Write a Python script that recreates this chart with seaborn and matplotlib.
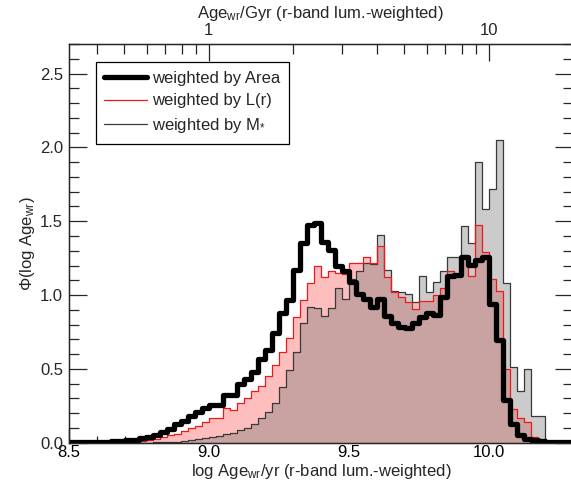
import numpy as np
import pandas as pd
import matplotlib
matplotlib.use("Agg")
import matplotlib.pyplot as plt
import seaborn as sns
from matplotlib.ticker import MultipleLocator, FixedLocator, NullFormatter
from matplotlib.lines import Line2D

# ---- data (bin edges: log Age from 8.5 to 10.3, step 0.025) ----
bin_start = 8.5
bin_width = 0.025
n_bins = 72

phi_area = [0.002, 0.003, 0.004, 0.005, 0.006, 0.008, 0.010, 0.012, 0.016, 0.020,
            0.032, 0.040, 0.050, 0.075, 0.095, 0.125, 0.150, 0.180, 0.210, 0.235,
            0.258, 0.258, 0.320, 0.320, 0.395, 0.430, 0.478, 0.570, 0.630, 0.745,
            0.875, 0.967, 1.170, 1.350, 1.475, 1.486, 1.360, 1.305, 1.200, 1.160,
            1.090, 1.010, 0.975, 0.920, 0.975, 0.860, 0.810, 0.785, 0.775, 0.810,
            0.850, 0.875, 0.865, 0.990, 1.130, 1.135, 1.260, 1.200, 1.240, 1.260,
            0.940, 0.695, 0.290, 0.130, 0.050, 0.025, 0.015, 0.010, 0.008, 0.006,
            0.005, 0.004]

phi_lum = [0.0, 0.0, 0.0, 0.0, 0.0, 0.0, 0.0, 0.0, 0.0, 0.005,
           0.010, 0.015, 0.025, 0.040, 0.050, 0.060, 0.080, 0.100, 0.115, 0.140,
           0.170, 0.170, 0.235, 0.220, 0.270, 0.300, 0.350, 0.385, 0.450, 0.526,
           0.617, 0.707, 0.854, 0.967, 1.084, 1.200, 1.125, 1.165, 1.150, 1.140,
           1.220, 1.215, 1.260, 1.220, 1.330, 1.120, 1.020, 0.990, 0.950, 0.905,
           0.960, 0.960, 1.000, 1.050, 1.160, 1.130, 1.270, 1.130, 1.475, 1.290,
           1.110, 1.030, 0.500, 0.230, 0.165, 0.140, 0.040, 0.020, 0.010, 0.005,
           0.003, 0.002]

phi_mass = [0.0, 0.0, 0.0, 0.0, 0.0, 0.0, 0.0, 0.0, 0.0, 0.0,
            0.0, 0.0, 0.003, 0.004, 0.005, 0.008, 0.012, 0.020, 0.025, 0.030,
            0.040, 0.045, 0.060, 0.065, 0.085, 0.100, 0.125, 0.165, 0.210, 0.270,
            0.380, 0.490, 0.617, 0.810, 0.917, 0.910, 0.858, 0.910, 1.045, 0.970,
            1.110, 1.165, 1.220, 1.210, 1.407, 1.170, 1.030, 1.020, 1.010, 0.955,
            1.130, 1.020, 1.090, 1.160, 1.260, 1.260, 1.470, 1.355, 1.900, 1.580,
            1.720, 2.050, 1.080, 0.510, 0.350, 0.500, 0.180, 0.180, 0.005, 0.003,
            0.002, 0.001]

labels = ["weighted by Area", "weighted by L(r)", r"weighted by M$_{*}$"]
top_major_gyr = [1, 10]
top_minor_gyr = [0.4, 0.5, 0.6, 0.7, 0.8, 0.9, 2, 3, 4, 5, 6, 7, 8, 9, 20]

edges = bin_start + bin_width * np.arange(n_bins + 1)
centers = 0.5 * (edges[:-1] + edges[1:])
df = pd.DataFrame({"logage": centers, "area": phi_area, "lum": phi_lum, "mass": phi_mass})
df["overlap"] = np.minimum(df["lum"], df["mass"])

sns.set_style("ticks")
plt.rcParams["font.family"] = ["Liberation Sans", "DejaVu Sans"]
plt.rcParams["mathtext.fontset"] = "custom"
plt.rcParams["mathtext.rm"] = "Liberation Sans"
plt.rcParams["mathtext.it"] = "Liberation Sans"

FS = 12
W, H = 571, 487
fig = plt.figure(figsize=(W / 100, H / 100), dpi=100)
x0, x1 = 68.7 / W, 573.0 / W
y0, y1 = (H - 442.7) / H, (H - 44.0) / H
ax = fig.add_axes([x0, y0, x1 - x0, y1 - y0])

common = dict(x="logage", bins=list(edges), element="step", ax=ax, legend=False)
sns.histplot(data=df, weights="mass", fill=True, color="#cbcbcb", alpha=1, linewidth=0, **common)
sns.histplot(data=df, weights="lum", fill=True, color="#ffbebe", alpha=1, linewidth=0, **common)
sns.histplot(data=df, weights="overlap", fill=True, color="#c9a2a2", alpha=1, linewidth=0, **common)
sns.histplot(data=df, weights="mass", fill=False, color="#3a3a3a", linewidth=0.9, **common)
sns.histplot(data=df, weights="lum", fill=False, color="#f01818", linewidth=0.9, **common)
sns.histplot(data=df, weights="area", fill=False, color="black", linewidth=3.8, **common)

xmax = 8.5 + (x1 - x0) * W / 280.0
ax.set_xlim(8.5, xmax)
ax.set_ylim(0, 2.7)
ax.xaxis.set_major_locator(MultipleLocator(0.5))
ax.xaxis.set_minor_locator(MultipleLocator(0.1))
ax.yaxis.set_major_locator(MultipleLocator(0.5))
ax.yaxis.set_minor_locator(MultipleLocator(0.1))
ax.xaxis.set_major_formatter(matplotlib.ticker.FormatStrFormatter("%.1f"))
ax.yaxis.set_major_formatter(matplotlib.ticker.FormatStrFormatter("%.1f"))
ax.tick_params(axis="x", which="major", direction="in", length=10.8, width=0.9, labelsize=FS, pad=2, colors="black")
ax.tick_params(axis="x", which="minor", direction="in", length=5.4, width=0.9)
ax.tick_params(axis="y", which="major", direction="in", length=13, width=0.9, labelsize=FS, pad=4, right=True)
ax.tick_params(axis="y", which="minor", direction="in", length=7, width=0.9, right=True)
ax.tick_params(axis="x", which="both", top=False)
for s in ax.spines.values():
    s.set_linewidth(0.9)
    s.set_color("black")

ax.set_xlabel(r"log Age$_{\rm wr}$/yr (r-band lum.-weighted)", fontsize=FS, labelpad=1)
ax.set_ylabel(r"$\Phi$(log Age$_{\rm wr}$)", fontsize=FS, labelpad=2)

# top axis: age in Gyr
top = ax.twiny()
top.set_xlim(ax.get_xlim())
top.xaxis.set_major_locator(FixedLocator(np.log10(np.array(top_major_gyr) * 1e9)))
top.set_xticklabels([str(v) for v in top_major_gyr])
top.xaxis.set_minor_locator(FixedLocator(np.log10(np.array(top_minor_gyr) * 1e9)))
top.xaxis.set_minor_formatter(NullFormatter())
top.tick_params(axis="x", which="major", direction="in", length=12, width=0.9, labelsize=FS, pad=4.5)
top.tick_params(axis="x", which="minor", direction="in", length=7, width=0.9)
top.set_xlabel(r"Age$_{\rm wr}$/Gyr (r-band lum.-weighted)", fontsize=FS, labelpad=3.5)
for s in top.spines.values():
    s.set_linewidth(0.9)

handles = [Line2D([], [], color="black", lw=3.8),
           Line2D([], [], color="#f01818", lw=0.9),
           Line2D([], [], color="#3a3a3a", lw=0.9)]
leg = ax.legend(handles, labels, loc="upper left",
                bbox_to_anchor=((95.7 - 68.7) / (x1 - x0) / W, (442.7 - 62.3) / (442.7 - 44.0)),
                fontsize=FS, frameon=True, fancybox=False, framealpha=1, edgecolor="black",
                borderpad=0.5, handlelength=2.6, handletextpad=0.3, labelspacing=0.47,
                borderaxespad=0)
leg.get_frame().set_linewidth(0.9)

fig.savefig("out.png", dpi=100)
